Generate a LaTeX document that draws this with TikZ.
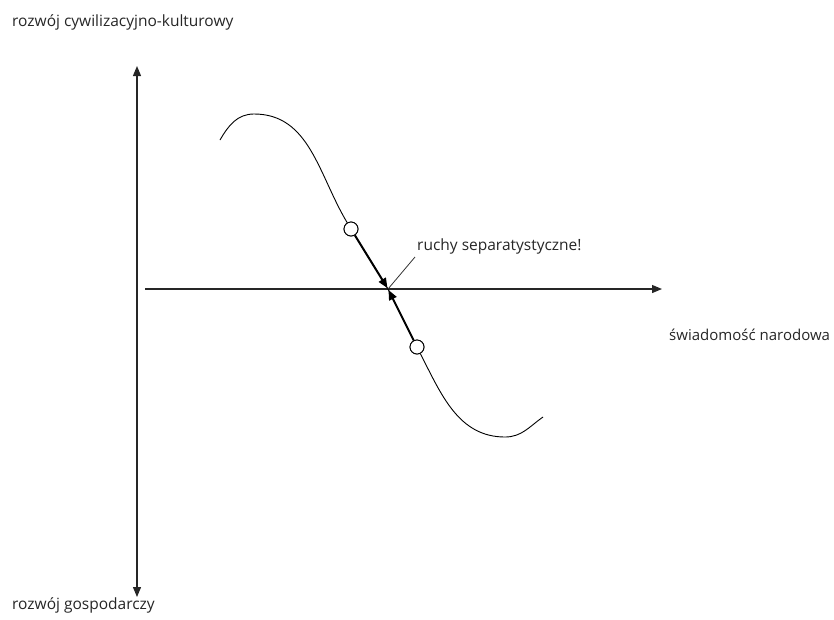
\documentclass[tikz,border=0pt]{standalone}
\usepackage{fontspec}
\setmainfont{Open Sans}
\usetikzlibrary{arrows.meta,positioning}
\tikzset{
  axisline/.style={draw=black!85, line width=1.2pt, -{Triangle[length=10pt,width=8pt]}},
  curveline/.style={draw=black, line width=0.9pt},
  forcearrow/.style={draw=black, line width=2pt, shorten >=1pt, -{Triangle[length=10pt,width=8pt]}},
  pointmark/.style={circle, draw=black, line width=0.9pt, fill=white, minimum size=14pt, inner sep=0pt},
  axislabel/.style={font=\fontsize{15.5}{18}\selectfont, text=black!85, inner sep=0pt},
  notelabel/.style={font=\fontsize{15.5}{18}\selectfont, text=black!85, inner sep=0pt}
}
\begin{document}
\begin{tikzpicture}[x=1pt,y=-1pt]
\useasboundingbox (0,0) rectangle (834,619);
% axes
\coordinate (ytop) at (137,66);
\coordinate (ybot) at (137,597);
\coordinate (xleft) at (145,289);
\coordinate (xright) at (662,289);
\coordinate (o) at (388,289);
\draw[axisline, {Triangle[length=10pt,width=8pt]}-{Triangle[length=10pt,width=8pt]}] (ybot) -- (ytop);
\draw[axisline] (xleft) -- (xright);

\node[axislabel, anchor=west] (culture) at (12,22) {rozwój cywilizacyjno-kulturowy};
\node[axislabel, anchor=west] (economy) at (12,605) {rozwój gospodarczy};
\node[axislabel, anchor=west, font=\fontsize{15}{18}\selectfont] (nation) at (669,335) {świadomość narodowa};

% curve
\node[pointmark] (upper) at (351,229) {};
\node[pointmark] (lower) at (417,347) {};
\draw[curveline] (220,140) to[out=60,in=180] (254,114) to[out=0,in=121] (upper);
\draw[curveline] (upper) -- (o) -- (lower);
\draw[curveline] (lower) to[out=-63,in=180] (505,437) to[out=0,in=215] (543,417);
\node[pointmark] at (upper) {};
\node[pointmark] at (lower) {};

% arrows to the crossing point
\draw[forcearrow] (upper) -- (o);
\draw[forcearrow] (lower) -- (o);

\node[notelabel, anchor=west] (sep) at (417,246) {ruchy separatystyczne!};
\draw[draw=black!80, line width=0.8pt] ([xshift=-2pt,yshift=-11pt]sep.west) -- (o);
\end{tikzpicture}
\end{document}
